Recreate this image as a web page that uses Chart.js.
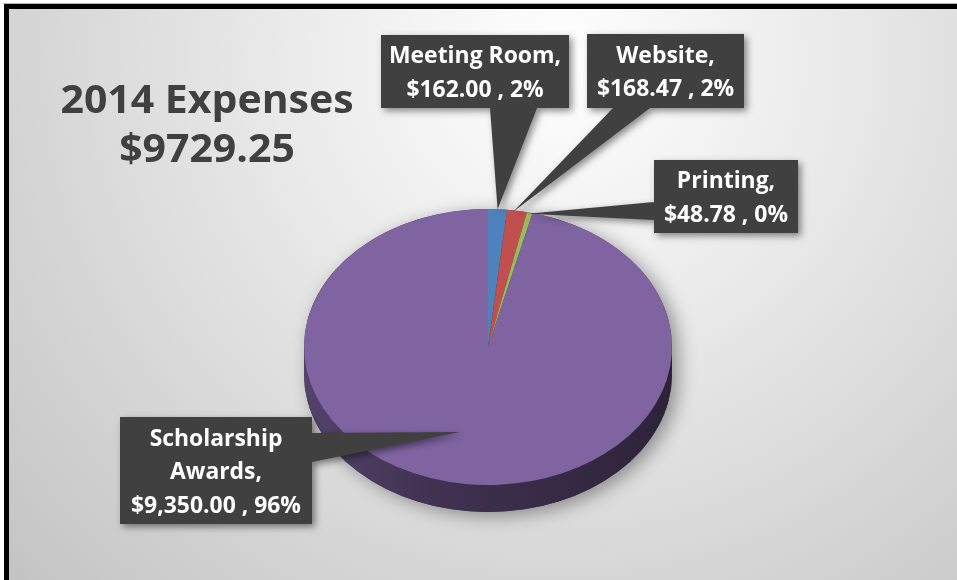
<!DOCTYPE html>
<html><head><meta charset="utf-8">
<script src="https://cdn.jsdelivr.net/npm/chart.js@4/dist/chart.umd.min.js"></script>
<style>html,body{margin:0;padding:0;background:#fff;overflow:hidden}</style>
</head><body>
<canvas id="c" width="957" height="580"></canvas>
<script>
// ---- data ----
const categories = ['Meeting Room', 'Website', 'Printing', 'Scholarship Awards'];
const amounts = [162.00, 168.47, 48.78, 9350.00];
const percentLabels = ['2%', '2%', '0%', '96%'];
const titleLines = ['2014 Expenses', '$9729.25'];
const sliceColors = ['#4F81BD', '#C0504D', '#9BBB59', '#8064A2'];

// ---- layout / style ----
const TILT = 0.75, DEPTH = 27;
const FONT = '"Open Sans", "DejaVu Sans", sans-serif';
const calloutLayout = [
  {box:[381,35,188,73],  base:[[490,108],[537,108]], reach:1.0,  nudge:0,    wrap:false},
  {box:[587,34,157,74],  base:[[613,108],[650,108]], reach:0.99, nudge:-0.02, wrap:false},
  {box:[654,160,144,73], base:[[654,202],[654,220]], reach:0.99, nudge:-0.01, wrap:false},
  {box:[120,417,192,107],base:[[312,433],[312,462]], reach:0.634,nudge:0.12, wrap:true}
];

function shade(hex, f) {
  const n = parseInt(hex.slice(1), 16);
  const r = Math.round(((n >> 16) & 255) * f), g = Math.round(((n >> 8) & 255) * f), b = Math.round((n & 255) * f);
  return 'rgb(' + r + ',' + g + ',' + b + ')';
}

const bgPlugin = {
  id: 'bg',
  beforeDraw(chart) {
    const ctx = chart.ctx, W = chart.width, H = chart.height;
    ctx.save();
    ctx.fillStyle = '#ffffff';
    ctx.fillRect(0, 0, W, H);
    const g = ctx.createRadialGradient(560, 60, 0, 560, 60, 750);
    g.addColorStop(0, '#ffffff');
    g.addColorStop(0.35, '#ebebeb');
    g.addColorStop(1, '#c4c4c4');
    ctx.fillStyle = g;
    ctx.fillRect(9, 9, W - 9, H - 9);
    ctx.fillStyle = '#b8b8b8';
    ctx.fillRect(3, 3, W - 3, 1);
    ctx.fillStyle = '#000000';
    ctx.fillRect(4, 4, W - 4, 5);
    ctx.fillRect(4, 4, 5, H - 4);
    ctx.restore();
  }
};

const tiltPlugin = {
  id: 'tilt',
  beforeDatasetsDraw(chart) {
    const ctx = chart.ctx;
    const meta = chart.getDatasetMeta(0);
    const a0 = meta.data[0];
    const cx = a0.x, cy = a0.y, R = a0.outerRadius, ry = R * TILT;
    // drop shadow of the whole disc
    ctx.save();
    ctx.shadowColor = 'rgba(0,0,0,0.38)';
    ctx.shadowBlur = 18;
    ctx.shadowOffsetX = 6;
    ctx.shadowOffsetY = 4;
    ctx.beginPath();
    ctx.ellipse(cx, cy, R, ry, 0, Math.PI, 0, false);
    ctx.ellipse(cx, cy + DEPTH, R, ry, 0, 0, Math.PI, false);
    ctx.closePath();
    ctx.fillStyle = '#3a2c4e';
    ctx.fill();
    ctx.restore();
    // side walls per slice
    meta.data.forEach((arc, i) => {
      const lo = Math.max(arc.startAngle, 0), hi = Math.min(arc.endAngle, Math.PI);
      if (hi <= lo) return;
      const col = sliceColors[i];
      const g = ctx.createLinearGradient(cx - R, 0, cx + R, 0);
      g.addColorStop(0, shade(col, 0.66));
      g.addColorStop(0.35, shade(col, 0.5));
      g.addColorStop(1, shade(col, 0.35));
      ctx.beginPath();
      ctx.ellipse(cx, cy, R, ry, 0, lo, hi, false);
      ctx.ellipse(cx, cy + DEPTH, R, ry, 0, hi, lo, true);
      ctx.closePath();
      ctx.fillStyle = g;
      ctx.fill();
    });
    ctx.save();
    ctx.translate(cx, cy);
    ctx.scale(1, TILT);
    ctx.translate(-cx, -cy);
  },
  afterDatasetsDraw(chart) {
    chart.ctx.restore();
  }
};

function drawScaledText(ctx, str, x, y, sx) {
  ctx.save();
  ctx.translate(x, y);
  ctx.scale(sx, 1);
  ctx.fillText(str, 0, 0);
  ctx.restore();
}

const calloutPlugin = {
  id: 'callouts',
  afterDraw(chart) {
    const ctx = chart.ctx;
    const meta = chart.getDatasetMeta(0);
    // title
    ctx.save();
    ctx.font = 'bold 39px ' + FONT;
    ctx.fillStyle = '#404040';
    ctx.textAlign = 'center';
    ctx.textBaseline = 'alphabetic';
    const tsx = 293 / ctx.measureText(titleLines[0]).width;
    drawScaledText(ctx, titleLines[0], 207, 113, tsx);
    drawScaledText(ctx, titleLines[1], 207, 162, tsx);
    ctx.restore();

    ctx.save();
    ctx.font = 'bold 23px ' + FONT;
    const sx = 172 / ctx.measureText(categories[0] + ',').width;
    meta.data.forEach((arc, i) => {
      const L = calloutLayout[i];
      const mid = (arc.startAngle + arc.endAngle) / 2 + L.nudge;
      const tx = arc.x + Math.cos(mid) * arc.outerRadius * L.reach;
      const ty = arc.y + Math.sin(mid) * arc.outerRadius * L.reach * TILT;
      const [bx, by, bw, bh] = L.box;
      ctx.save();
      ctx.shadowColor = 'rgba(0,0,0,0.45)';
      ctx.shadowBlur = 7;
      ctx.shadowOffsetX = 3;
      ctx.shadowOffsetY = 3;
      ctx.fillStyle = '#404040';
      ctx.beginPath();
      ctx.rect(bx, by, bw, bh);
      ctx.moveTo(L.base[0][0], L.base[0][1]);
      ctx.lineTo(tx, ty);
      ctx.lineTo(L.base[1][0], L.base[1][1]);
      ctx.closePath();
      ctx.fill();
      ctx.restore();
      // text
      const nameLines = L.wrap ? categories[i].split(' ') : [categories[i]];
      nameLines[nameLines.length - 1] += ',';
      const valueLine = '$' + amounts[i].toLocaleString('en-US', {minimumFractionDigits: 2, maximumFractionDigits: 2}) + ' , ' + percentLabels[i];
      const lines = nameLines.concat([valueLine]);
      ctx.fillStyle = '#ffffff';
      ctx.textAlign = 'center';
      ctx.textBaseline = 'alphabetic';
      const cxb = bx + bw / 2, cyb = by + bh / 2;
      const lh = 33.5;
      lines.forEach((ln, k) => {
        const y = cyb - (lines.length - 1) / 2 * lh + k * lh + 8.5;
        drawScaledText(ctx, ln, cxb, y, sx);
      });
    });
    ctx.restore();
  }
};

new Chart(document.getElementById('c').getContext('2d'), {
  type: 'pie',
  data: {
    labels: categories,
    datasets: [{
      data: amounts,
      backgroundColor: sliceColors,
      borderWidth: 0,
      hoverBorderWidth: 0,
      hoverOffset: 0,
      offset: 0,
      clip: false
    }]
  },
  options: {
    responsive: false,
    animation: false,
    events: [],
    rotation: 0,
    layout: { padding: { left: 304, right: 285, top: 163, bottom: 49 } },
    plugins: {
      legend: { display: false },
      tooltip: { enabled: false },
      title: { display: false }
    }
  },
  plugins: [bgPlugin, tiltPlugin, calloutPlugin]
});
</script>
</body></html>
